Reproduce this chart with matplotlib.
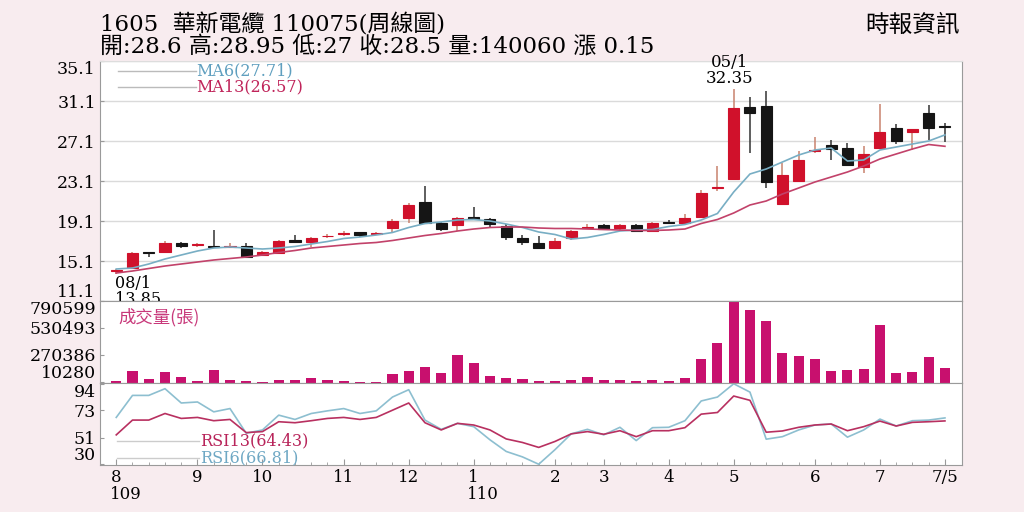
import matplotlib
matplotlib.use('Agg')
import matplotlib.pyplot as plt
from matplotlib.transforms import blended_transform_factory

plt.rcParams['font.family'] = ['DejaVu Serif', 'Noto Sans CJK TC']

# weekly candles, 1605 華新電纜
opens = [14.1, 14.4, 16.0, 16.0, 16.9, 16.7, 16.6, 16.55, 16.6, 15.75,
         15.9, 17.2, 17.0, 17.6, 17.85, 18.0, 17.8, 18.45, 19.4, 21.0,
         18.9, 18.7, 19.55, 19.3, 18.6, 17.45, 16.95, 16.4, 17.45, 18.4,
         18.75, 18.45, 18.75, 18.15, 19.05, 18.95, 19.55, 22.4, 23.3, 30.5,
         30.6, 20.8, 23.1, 26.15, 26.75, 26.45, 24.55, 26.4, 28.45, 28.05,
         29.85, 28.6]
closes = [14.2, 15.9, 15.95, 16.9, 16.6, 16.8, 16.55, 16.65, 15.55, 16.0,
          17.1, 17.0, 17.45, 17.65, 17.9, 17.75, 17.9, 19.1, 20.75, 18.95,
          18.35, 19.35, 19.35, 18.8, 17.55, 17.05, 16.4, 17.1, 18.1, 18.5,
          18.3, 18.75, 18.15, 18.95, 18.95, 19.35, 21.9, 22.5, 30.45, 29.9,
          23.0, 23.7, 25.2, 26.25, 26.35, 24.75, 25.85, 28.0, 27.1, 28.3,
          28.4, 28.5]
highs = [14.3, 16.05, 16.05, 17.1, 17.0, 16.95, 18.25, 16.95, 16.9, 16.1,
         17.25, 17.7, 17.5, 17.85, 18.1, 18.05, 18.05, 19.3, 20.95, 22.6,
         19.05, 19.5, 20.55, 19.45, 18.8, 17.75, 17.65, 17.4, 18.25, 18.85,
         18.8, 18.8, 18.8, 19.0, 19.25, 19.8, 22.2, 24.6, 32.35, 31.5,
         32.1, 24.9, 26.15, 27.55, 27.2, 26.95, 26.6, 30.85, 28.85, 28.35,
         30.7, 28.95]
lows = [13.85, 14.35, 15.5, 15.95, 16.4, 16.55, 16.5, 16.45, 15.45, 15.7,
        15.8, 16.95, 16.55, 17.45, 17.65, 17.5, 17.7, 17.95, 18.95, 18.8,
        18.15, 18.15, 19.2, 18.5, 17.25, 16.7, 16.35, 16.35, 17.2, 18.35,
        18.2, 18.2, 18.1, 18.1, 18.8, 18.9, 19.5, 22.1, 23.25, 25.9,
        22.45, 20.75, 23.05, 25.95, 25.2, 24.7, 23.95, 26.3, 26.85, 26.2,
        27.2, 27.0]
volumes = [22000, 115000, 38000, 106000, 58000, 24000, 122000, 29000, 19000, 10280,
           26000, 29000, 45000, 29000, 16000, 14000, 13000, 84000, 113000, 154000,
           93000, 270000, 196000, 70000, 51000, 42000, 22000, 19000, 26000, 58000,
           26000, 29000, 19000, 26000, 19000, 45000, 231000, 383000, 790599, 704000,
           598000, 292000, 263000, 231000, 119000, 125000, 138000, 559000, 93000, 106000,
           254000, 140060]
ma6 = [14.3, 14.4, 14.8, 15.3, 15.7, 16.1, 16.4, 16.5, 16.4, 16.3,
       16.4, 16.55, 16.8, 17.05, 17.35, 17.5, 17.7, 17.95, 18.45, 18.85,
       19.0, 19.2, 19.25, 19.1, 18.8, 18.45, 18.0, 17.75, 17.3, 17.45,
       17.75, 18.1, 18.2, 18.25, 18.55, 18.75, 19.2, 19.85, 22.0, 23.8,
       24.3, 25.0, 25.7, 26.2, 26.4, 25.1, 25.2, 26.2, 26.5, 26.8,
       27.1, 27.71]
ma13 = [13.9, 14.1, 14.35, 14.6, 14.8, 15.0, 15.2, 15.35, 15.5, 15.7,
        15.95, 16.15, 16.4, 16.55, 16.7, 16.85, 16.95, 17.15, 17.4, 17.65,
        17.85, 18.1, 18.3, 18.45, 18.5, 18.5, 18.4, 18.35, 18.35, 18.3,
        18.25, 18.2, 18.15, 18.15, 18.2, 18.3, 18.85, 19.25, 19.9, 20.7,
        21.1, 21.8, 22.4, 23.0, 23.5, 24.0, 24.6, 25.3, 25.8, 26.3,
        26.75, 26.57]
rsi6 = [67.2, 84.6, 84.6, 89.9, 78.6, 79.4, 71.6, 74.2, 54.7, 57.3,
        69.0, 65.6, 70.3, 72.4, 74.2, 70.3, 72.4, 83.3, 89.1, 65.1,
        57.8, 62.5, 59.9, 49.5, 40.3, 36.0, 30.2, 41.7, 54.2, 57.8,
        53.4, 59.4, 48.9, 59.1, 59.4, 64.6, 80.2, 83.3, 93.8, 87.2,
        50.0, 52.0, 57.3, 61.2, 62.0, 51.6, 57.3, 65.9, 60.4, 64.6,
        65.1, 66.81]
rsi13 = [53.4, 65.1, 65.1, 70.3, 66.4, 67.2, 64.6, 65.6, 55.2, 56.0,
         63.8, 63.0, 64.6, 66.4, 67.2, 65.6, 67.2, 72.9, 78.6, 63.0,
         57.3, 62.5, 61.2, 57.3, 50.2, 47.4, 43.5, 48.2, 54.2, 56.0,
         53.9, 56.7, 52.0, 56.7, 56.7, 59.1, 69.8, 71.1, 84.1, 80.7,
         55.5, 56.5, 59.4, 61.2, 62.0, 56.7, 59.9, 64.3, 60.4, 63.3,
         63.8, 64.43]

month_pos = [0, 5, 9, 14, 18, 22, 27, 30, 34, 38, 43, 47, 51]
month_labels = ['8', '9', '10', '11', '12', '1', '2', '3', '4', '5', '6', '7', '7/5']
year_pos = [0, 22]
year_labels = ['109', '110']
price_ticks = [11.1, 15.1, 19.1, 23.1, 27.1, 31.1, 35.1]
vol_ticks = [10280, 270386, 530493, 790599]
rsi_ticks = [30, 51.33, 72.67, 94]
rsi_labels = ['30', '51', '73', '94']

RED = '#d0112b'
BLACK = '#151515'
BG = '#f8ecef'
SPINE = '#9a9a9a'

fig = plt.figure(figsize=(10.24, 5.12), dpi=100, facecolor=BG)
L, W = 100 / 1024, 862 / 1024
ax = fig.add_axes([L, 1 - 301 / 512, W, 240 / 512])
axv = fig.add_axes([L, 1 - 383 / 512, W, 82 / 512])
axr = fig.add_axes([L, 1 - 465 / 512, W, 82 / 512])

for a in (ax, axv, axr):
    a.set_xlim(-1, 52.05)
    for s in a.spines.values():
        s.set_color(SPINE)
    a.tick_params(axis='y', labelsize=12.5, length=3, direction='in', pad=3, color=SPINE)
ax.spines['top'].set_color('#dddddd')

# price panel
n = len(closes)
for i in range(n):
    up = closes[i] >= opens[i]
    ax.vlines(i, lows[i], highs[i], color='#c9826e' if up else '#333333', lw=1.1, zorder=2)
    ax.bar(i, abs(closes[i] - opens[i]), bottom=min(opens[i], closes[i]), width=0.68,
           color=RED if up else BLACK, edgecolor=RED if up else BLACK, lw=0.8, zorder=3)
ax.plot(range(n), ma6, color='#78aec4', lw=1.2, zorder=4)
ax.plot(range(n), ma13, color='#c2426a', lw=1.2, zorder=4)
ax.set_ylim(11.1, 35.1)
ax.set_yticks(price_ticks, [f'{t:.1f}' for t in price_ticks])
ax.grid(axis='y', color='#dadada', lw=1)
ax.set_axisbelow(True)
ax.set_xticks([])

ax.plot([0.021, 0.111], [0.958, 0.958], transform=ax.transAxes, color='#bbbbbb', lw=1)
ax.plot([0.021, 0.111], [0.892, 0.892], transform=ax.transAxes, color='#bbbbbb', lw=1)
ax.text(0.112, 0.958, 'MA6(27.71)', transform=ax.transAxes, color='#5f9fbf',
        fontsize=11.5, va='center')
ax.text(0.112, 0.892, 'MA13(26.57)', transform=ax.transAxes, color='#c0245a',
        fontsize=11.5, va='center')

ax.annotate('08/1\n13.85', xy=(0, 13.85), xytext=(-1, -1), textcoords='offset points',
            ha='left', va='top', fontsize=11.5, linespacing=0.95,
            annotation_clip=False, zorder=10)
ax.annotate('05/1\n32.35', xy=(38, 32.35), xytext=(-3, 1), textcoords='offset points',
            ha='center', va='bottom', fontsize=12, linespacing=0.95,
            annotation_clip=False, zorder=10)

# volume panel
axv.bar(range(n), volumes, width=0.62, color='#c8106e', zorder=2)
axv.set_ylim(0, 790599)
axv.set_yticks(vol_ticks, [str(v) for v in vol_ticks])
axv.set_xticks([])
axv.text(0.021, 0.80, '成交量(張)', transform=axv.transAxes, color='#c8387a',
         fontsize=12.5, va='center', family=['Noto Sans CJK TC'])

# rsi panel
axr.plot(range(n), rsi6, color='#8dbfd0', lw=1.2)
axr.plot(range(n), rsi13, color='#b83060', lw=1.2)
axr.set_ylim(29.6, 94.4)
axr.set_yticks(rsi_ticks, rsi_labels)
axr.plot([0.020, 0.115], [0.293, 0.293], transform=axr.transAxes, color='#cccccc', lw=1)
axr.plot([0.020, 0.115], [0.085, 0.085], transform=axr.transAxes, color='#cccccc', lw=1)
axr.text(0.116, 0.293, 'RSI13(64.43)', transform=axr.transAxes, color='#b8245a',
         fontsize=11.5, va='center')
axr.text(0.116, 0.085, 'RSI6(66.81)', transform=axr.transAxes, color='#6fa8c4',
         fontsize=11.5, va='center')
axr.set_xticks(month_pos, month_labels)
axr.set_xticks(range(n), minor=True)
axr.tick_params(axis='x', which='major', labelsize=12, length=4, direction='in',
                pad=3, color=SPINE)
axr.tick_params(axis='x', which='minor', length=2, direction='in', color=SPINE)
tr = blended_transform_factory(axr.transData, axr.transAxes)
for p, lab in zip(year_pos, year_labels):
    axr.text(p - 0.4, -0.26, lab, transform=tr, ha='left', va='top', fontsize=12)

# edge tick labels pushed inside their panels
for a in (ax, axv, axr):
    labs = a.get_yticklabels()
    labs[0].set_va('bottom')
    labs[-1].set_va('top')

fig.text(L, 1 - 25 / 512, '1605  華新電纜 110075(周線圖)', fontsize=16.5, va='center')
fig.text(L, 1 - 47 / 512, '開:28.6 高:28.95 低:27 收:28.5 量:140060 漲 0.15',
         fontsize=16.5, va='center')
fig.text(960 / 1024, 1 - 25 / 512, '時報資訊', fontsize=17, va='center', ha='right')

fig.savefig('out.png', dpi=100, facecolor=BG)
